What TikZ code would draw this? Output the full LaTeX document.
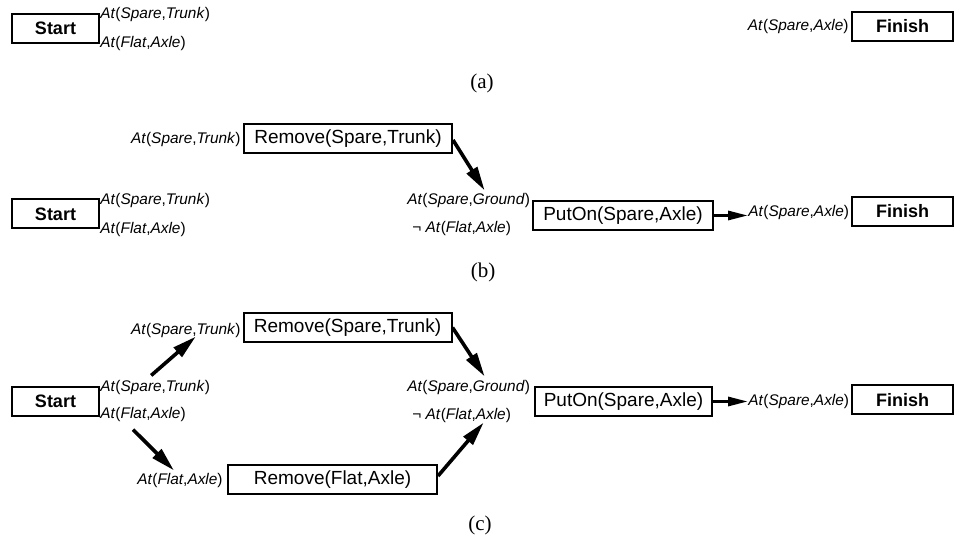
\documentclass[tikz,border=0pt]{standalone}
\usepackage{fontspec}
\setmainfont{Liberation Serif}
\setsansfont{Liberation Sans}
\usetikzlibrary{arrows.meta, positioning, calc}

\newcommand{\atc}[2]{\textit{At}(\textit{#1},\textit{#2})}

\begin{document}
\begin{tikzpicture}[x=0.5pt, y=-0.5pt,
    act/.style={draw, line width=1pt, inner sep=0pt, minimum height=14.5pt, font=\sffamily\fontsize{9.5}{11}\selectfont},
    endbox/.style={act, minimum width=43.5pt, font=\sffamily\bfseries\fontsize{9}{11}\selectfont},
    cond/.style={inner sep=0pt, font=\sffamily\fontsize{7.7}{9}\selectfont},
    capt/.style={inner sep=0pt, font=\rmfamily\fontsize{10.5}{12}\selectfont},
    arr/.style={line width=1.8pt, -{Triangle[length=12pt, width=6pt]}},
    harr/.style={line width=1.5pt, -{Triangle[length=10pt, width=4.5pt]}}]
  \useasboundingbox (0,0) rectangle (955,539);

  % (a)
  \node[endbox] (startA) at (55.5,28.5) {Start};
  \node[cond, anchor=base west] (stA1) at (100,19) {\atc{Spare}{Trunk}};
  \node[cond, anchor=base west] (stA2) at (100,48) {\atc{Flat}{Axle}};
  \node[endbox, minimum width=50.5pt] (finA) at (902.5,26.5) {Finish};
  \node[cond, anchor=base east] (axA) at (849,31) {\atc{Spare}{Axle}};
  \node[capt] (capA) at (482,83) {(a)};

  % (b)
  \node[act, minimum width=104pt] (remB) at (348,138.5) {Remove(Spare,Trunk)};
  \node[cond, anchor=base east] (preB) at (241,144) {\atc{Spare}{Trunk}};
  \node[endbox] (startB) at (55.5,214) {Start};
  \node[cond, anchor=base west] (stB1) at (100,205) {\atc{Spare}{Trunk}};
  \node[cond, anchor=base west] (stB2) at (100,234) {\atc{Flat}{Axle}};
  \node[cond, anchor=base west] (gndB) at (407,205) {\atc{Spare}{Ground}};
  \node[cond, anchor=base west] (negB) at (412,233) {¬ \atc{Flat}{Axle}};
  \node[act, minimum width=90pt] (putB) at (623,215.5) {PutOn(Spare,Axle)};
  \node[cond, anchor=base west] (axB) at (748,217) {\atc{Spare}{Axle}};
  \node[endbox, minimum width=50.5pt] (finB) at (902.5,211.5) {Finish};
  \node[capt] (capB) at (483,272) {(b)};

  \draw[arr] ([shift={(0,1.5)}]remB.east) -- ([shift={(16,-3)}]gndB.north);
  \draw[harr] (putB.east) -- (putB.east -| axB.west);

  % (c)
  \node[act, minimum width=104pt] (remC1) at (347.5,327.5) {Remove(Spare,Trunk)};
  \node[cond, anchor=base east] (preC1) at (241,335) {\atc{Spare}{Trunk}};
  \node[endbox] (startC) at (55.5,401.5) {Start};
  \node[cond, anchor=base west] (stC1) at (100,392) {\atc{Spare}{Trunk}};
  \node[cond, anchor=base west] (stC2) at (100,419) {\atc{Flat}{Axle}};
  \node[cond, anchor=base west] (gndC) at (407,392) {\atc{Spare}{Ground}};
  \node[cond, anchor=base west] (negC) at (412,420) {¬ \atc{Flat}{Axle}};
  \node[act, minimum width=88.5pt] (putC) at (623.5,401.5) {PutOn(Spare,Axle)};
  \node[cond, anchor=base west] (axC) at (748,406) {\atc{Spare}{Axle}};
  \node[endbox, minimum width=50.5pt] (finC) at (902.5,400) {Finish};
  \node[act, minimum width=104.5pt] (remC2) at (332.5,480) {Remove(Flat,Axle)};
  \node[cond, anchor=base east] (preC2) at (223,485) {\atc{Flat}{Axle}};
  \node[capt] (capC) at (480,525) {(c)};

  \draw[arr] ([shift={(-4,-5)}]stC1.north) -- ([shift={(10,-2)}]preC1.south);
  \draw[arr] (remC1.east) -- ([shift={(16,-4)}]gndC.north);
  \draw[arr] ([shift={(-10,7)}]stC2.south) -- ([shift={(-6,-3)}]preC2.north);
  \draw[arr] ([shift={(0,-4)}]remC2.east) -- ([shift={(22,-1)}]negC.south);
  \draw[harr] (putC.east) -- (putC.east -| axC.west);
\end{tikzpicture}
\end{document}
